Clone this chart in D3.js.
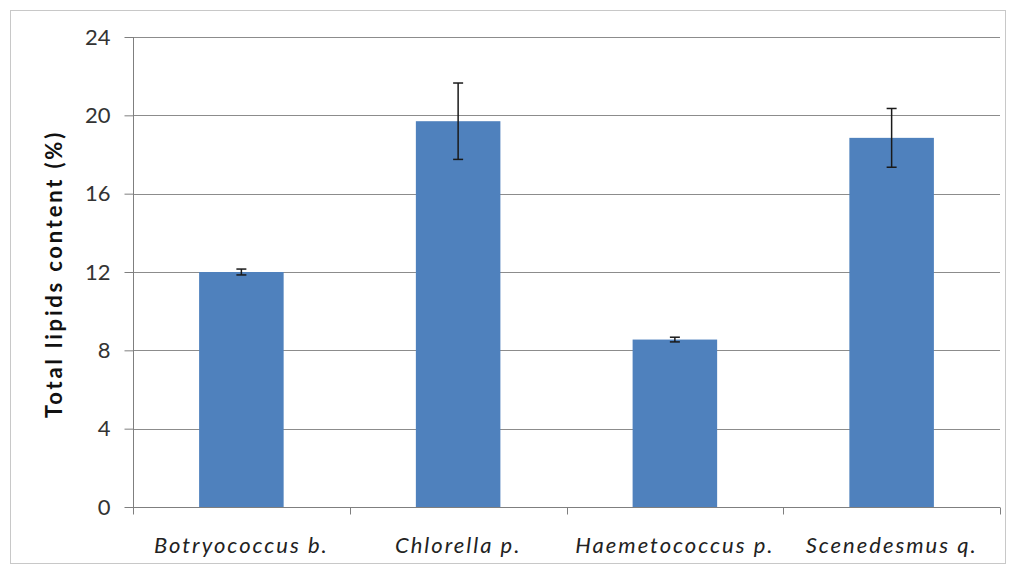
<!DOCTYPE html>
<html>
<head>
<meta charset="utf-8">
<script src="https://cdn.jsdelivr.net/npm/d3@7"></script>
<style>
  body { margin: 0; background: #fff; }
  svg { display: block; font-family: Lato, "Open Sans", sans-serif; }
</style>
</head>
<body>
<svg id="chart" width="1016" height="569"></svg>
<script>
const species = ["Botryococcus b.", "Chlorella p.", "Haemetococcus p.", "Scenedesmus q."]
const lipids = [12.0, 19.7, 8.55, 18.85]
const errors = [0.15, 1.95, 0.12, 1.5]
const yTicks = [0, 4, 8, 12, 16, 20, 24]

const width = 1016
const height = 569
const margin = {top: 37, right: 16, bottom: 62, left: 133}

const svg = d3.select("#chart")

// outer frame
svg.append("rect")
  .attr("x", 10.5).attr("y", 10.5)
  .attr("width", width - 21).attr("height", height - 16)
  .attr("fill", "none")
  .attr("stroke", "#c8c8c8")

const x = d3.scaleBand()
  .domain(species)
  .range([margin.left, width - margin.right])
  .paddingInner(0.61)
  .paddingOuter(0.305)

const y = d3.scaleLinear()
  .domain([0, 24])
  .range([height - margin.bottom, margin.top])

// gridlines
svg.append("g")
  .selectAll("line")
  .data(yTicks.filter(d => d > 0))
  .enter().append("line")
    .attr("x1", margin.left)
    .attr("x2", width - margin.right)
    .attr("y1", d => Math.round(y(d)) + 0.5)
    .attr("y2", d => Math.round(y(d)) + 0.5)
    .attr("stroke", "#8c8c8c")
    .attr("stroke-width", 1)

// y axis
const yAxis = svg.append("g")
  .attr("transform", "translate(" + (margin.left + 0.5) + ",0)")
  .call(d3.axisLeft(y).tickValues(yTicks).tickSize(9).tickPadding(14))
yAxis.selectAll("path, line").attr("stroke", "#7f7f7f")
yAxis.select(".domain").attr("d", "M0," + y(24) + "V" + y(0))
yAxis.selectAll("text")
  .attr("font-size", 22)
  .attr("fill", "#333")
  .attr("font-family", "Lato, sans-serif")

// bars
svg.append("g")
  .selectAll("rect")
  .data(lipids)
  .enter().append("rect")
    .attr("x", (d, i) => x(species[i]))
    .attr("y", d => y(d))
    .attr("width", x.bandwidth())
    .attr("height", d => y(0) - y(d))
    .attr("fill", "#4f81bd")

// x axis
const step = x.step()
const xAxis = svg.append("g")
  .attr("transform", "translate(0," + (Math.round(y(0)) + 0.5) + ")")
xAxis.append("line")
  .attr("x1", margin.left).attr("x2", width - margin.right)
  .attr("stroke", "#7f7f7f")
xAxis.selectAll(".tick")
  .data(d3.range(species.length + 1))
  .enter().append("line")
    .attr("class", "tick")
    .attr("x1", i => Math.round(margin.left + i * step) + 0.5)
    .attr("x2", i => Math.round(margin.left + i * step) + 0.5)
    .attr("y1", 0).attr("y2", 7)
    .attr("stroke", "#7f7f7f")
xAxis.selectAll("text")
  .data(species)
  .enter().append("text")
    .attr("x", d => x(d) + x.bandwidth() / 2)
    .attr("y", 45)
    .attr("text-anchor", "middle")
    .attr("font-size", 22)
    .attr("letter-spacing", 2)
    .attr("font-style", "italic")
    .attr("fill", "#222")
    .text(d => d)

// error bars
const eb = svg.append("g")
  .selectAll("g")
  .data(lipids)
  .enter().append("g")
    .attr("stroke", "#1a1a1a")
    .attr("stroke-width", 1.5)
eb.append("line")
  .attr("x1", (d, i) => x(species[i]) + x.bandwidth() / 2)
  .attr("x2", (d, i) => x(species[i]) + x.bandwidth() / 2)
  .attr("y1", (d, i) => y(d - errors[i]))
  .attr("y2", (d, i) => y(d + errors[i]))
eb.append("line")
  .attr("x1", (d, i) => x(species[i]) + x.bandwidth() / 2 - 5)
  .attr("x2", (d, i) => x(species[i]) + x.bandwidth() / 2 + 5)
  .attr("y1", (d, i) => y(d + errors[i]))
  .attr("y2", (d, i) => y(d + errors[i]))
eb.append("line")
  .attr("x1", (d, i) => x(species[i]) + x.bandwidth() / 2 - 5)
  .attr("x2", (d, i) => x(species[i]) + x.bandwidth() / 2 + 5)
  .attr("y1", (d, i) => y(d - errors[i]))
  .attr("y2", (d, i) => y(d - errors[i]))

// y title
svg.append("text")
  .attr("transform", "translate(62," + ((y(0) + y(24)) / 2 + 2) + ") rotate(-90)")
  .attr("text-anchor", "middle")
  .attr("font-size", 22)
  .attr("letter-spacing", 2.8)
  .attr("font-weight", "bold")
  .attr("fill", "#111")
  .text("Total lipids content (%)")
</script>
</body>
</html>
